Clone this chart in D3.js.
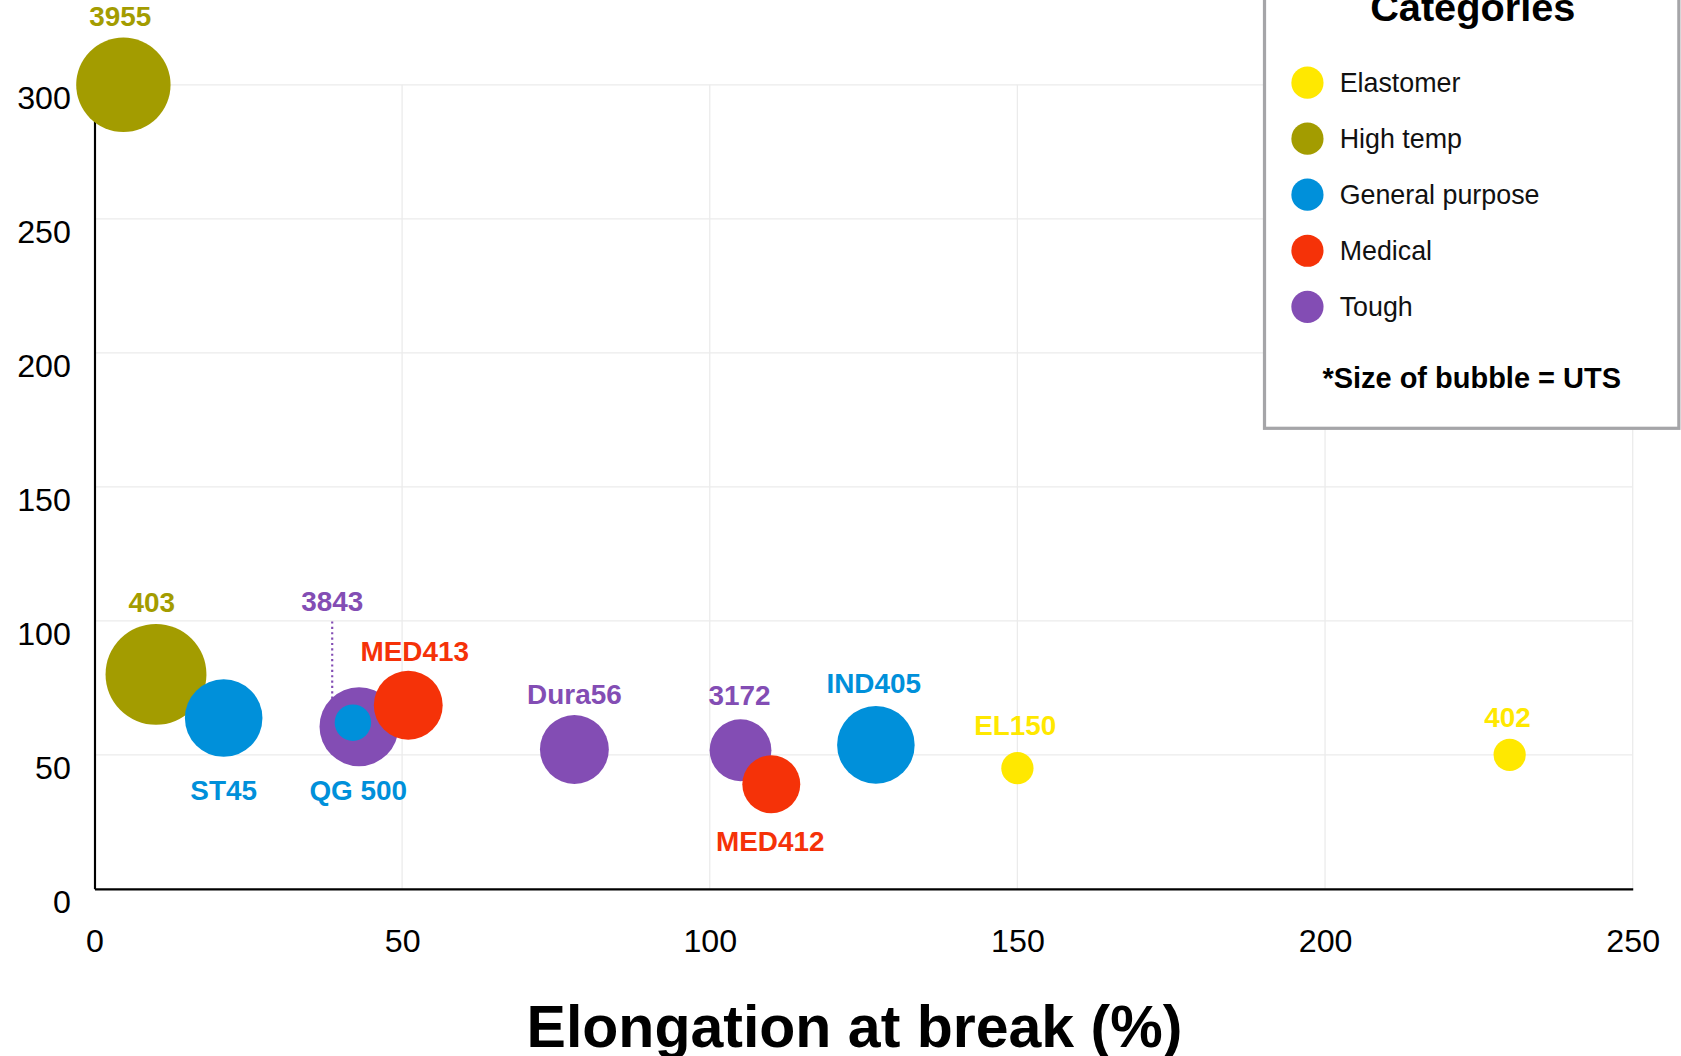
<!DOCTYPE html>
<meta charset="utf-8">
<script src="https://d3js.org/d3.v7.min.js"></script>
<style>
  body { margin: 0; background: #fff; }
  text { font-family: "Liberation Sans", Arial, sans-serif; }
</style>
<div id="chart"></div>
<script>
// Data
const names      = ["3955", "403", "ST45", "QG 500", "3843", "MED413", "Dura56", "3172", "MED412", "IND405", "EL150", "402"];
const categories = ["High temp", "High temp", "General purpose", "General purpose", "Tough", "Medical", "Tough", "Tough", "Medical", "General purpose", "Elastomer", "Elastomer"];
const elongation = [4.7, 10, 21, 42, 43, 51, 78, 105, 110, 127, 150, 230];
const strength   = [300, 80, 63.7, 62, 60.5, 68.5, 52, 51.7, 39, 53.7, 45, 50];
const uts        = [77, 88, 52, 11.5, 54, 41, 41, 33, 29, 52, 9, 9];
// label offsets from bubble centre (dx, dy)
const labelDx = [-3, -4, 0, 5, -25, 6, 0, -1, -1, -2, -2, -2];
const labelDy = [-55, -58, 76, 72, -108, -41, -42, -42, 62, -48, -31, -26];

const catNames  = ["Elastomer", "High temp", "General purpose", "Medical", "Tough"];
const catColors = ["#ffe800", "#a39c00", "#0090da", "#f53208", "#834db4"];
const xTicks = [0, 50, 100, 150, 200, 250];
const yTicks = [0, 50, 100, 150, 200, 250, 300];

const S = 1681 / 1566;
const svg = d3.select("#chart").append("svg")
  .attr("width", 1681).attr("height", 1056)
  .append("g").attr("transform", `scale(${S})`);

const x = d3.scaleLinear().domain([0, 250]).range([88, 1521]);
const y = d3.scaleLinear().domain([0, 300]).range([828, 79]);
const r = d3.scaleSqrt().domain([0, 88]).range([0, 47]);
const color = d3.scaleOrdinal().domain(catNames).range(catColors);

// grid
svg.append("g").selectAll("line").data(yTicks.slice(1)).join("line")
  .attr("x1", x(0)).attr("x2", x(250)).attr("y1", d => y(d)).attr("y2", d => y(d))
  .attr("stroke", "#ebebeb").attr("stroke-width", 1.2);
svg.append("g").selectAll("line").data(xTicks.slice(1)).join("line")
  .attr("x1", d => x(d)).attr("x2", d => x(d)).attr("y1", y(0)).attr("y2", y(300))
  .attr("stroke", "#ebebeb").attr("stroke-width", 1.2);

// axes
const xAxis = svg.append("g").attr("transform", `translate(0,${y(0)})`)
  .call(d3.axisBottom(x).tickValues(xTicks).tickSize(0).tickPadding(38));
const yAxis = svg.append("g").attr("transform", `translate(${x(0)},0)`)
  .call(d3.axisLeft(y).tickValues(yTicks).tickSize(0).tickPadding(22));
[xAxis, yAxis].forEach(a => {
  a.select(".domain").attr("stroke", "#000").attr("stroke-width", 2);
  a.selectAll("text").attr("font-size", 30).attr("fill", "#000")
    .style("font-family", "'Liberation Sans', Arial, sans-serif");
});
yAxis.selectAll("text").attr("dy", "0.75em");

svg.append("text").attr("x", 796).attr("y", 975).attr("text-anchor", "middle")
  .attr("font-size", 55).attr("font-weight", "bold").text("Elongation at break (%)");

// bubbles
const pts = names.map((n, i) => ({n, c: categories[i], x: elongation[i], y: strength[i], u: uts[i], dx: labelDx[i], dy: labelDy[i]}));
const order = pts.slice().sort((a, b) => b.u - a.u);
svg.append("g").selectAll("circle").data(order).join("circle")
  .attr("cx", d => x(d.x)).attr("cy", d => y(d.y)).attr("r", d => r(d.u))
  .attr("fill", d => color(d.c));

// leader line for 3843
const p3843 = pts[4];
svg.append("line")
  .attr("x1", x(p3843.x) - 25).attr("x2", x(p3843.x) - 25)
  .attr("y1", y(p3843.y) - 98).attr("y2", y(p3843.y) - 26)
  .attr("stroke", color(p3843.c)).attr("stroke-width", 2).attr("stroke-dasharray", "2,3");

svg.append("g").selectAll("text").data(pts).join("text")
  .attr("x", d => x(d.x) + d.dx).attr("y", d => y(d.y) + d.dy)
  .attr("text-anchor", "middle").attr("font-size", 26).attr("font-weight", "bold")
  .attr("fill", d => color(d.c)).text(d => d.n);

// legend
const lg = svg.append("g");
lg.append("rect").attr("x", 1178).attr("y", -10).attr("width", 386).attr("height", 409)
  .attr("fill", "#fff").attr("stroke", "#a5a5a8").attr("stroke-width", 3);
lg.append("text").attr("x", 1372).attr("y", 20).attr("text-anchor", "middle")
  .attr("font-size", 37).attr("font-weight", "bold").text("Categories");
const items = lg.selectAll("g.item").data(catNames).join("g")
  .attr("transform", (d, i) => `translate(1218,${77 + 52.2 * i})`);
items.append("circle").attr("r", 15).attr("fill", d => color(d));
items.append("text").attr("x", 30).attr("y", 9).attr("font-size", 25).attr("fill", "#111").text(d => d);
lg.append("text").attr("x", 1371).attr("y", 361).attr("text-anchor", "middle")
  .attr("font-size", 27).attr("font-weight", "bold").text("*Size of bubble = UTS");
</script>
